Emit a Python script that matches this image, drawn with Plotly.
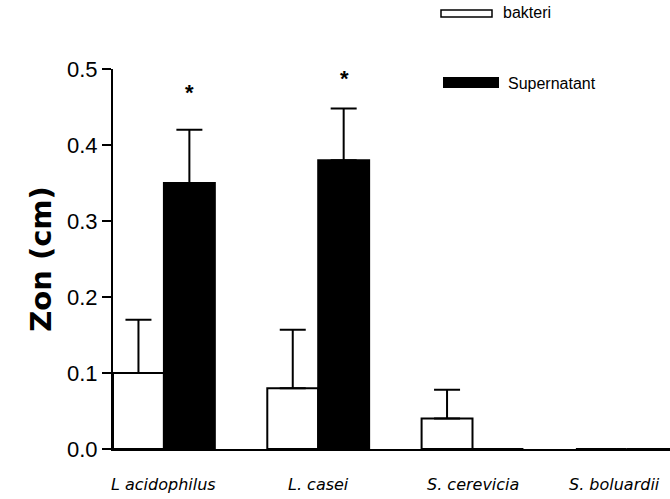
import plotly.graph_objects as go

categories = ["L acidophilus", "L. casei", "S. cerevicia", "S. boluardii"]
bakteri = [0.10, 0.08, 0.04, 0.0]
bakteri_err = [0.07, 0.077, 0.038, 0.0]
supernatant = [0.35, 0.38, 0.0, 0.0]
supernatant_err = [0.07, 0.068, 0.0, 0.0]
stars_y = [0.469, 0.488]
yticks = [0.0, 0.1, 0.2, 0.3, 0.4, 0.5]

W, H = 670, 499
ml, mr, mt, mb = 113, 0, 69, 50
pw, ph = W - ml - mr, H - mt - mb
ARIAL = "Arial, Liberation Sans"
XFONT = dict(size=16, family="DejaVu Sans", color="black", style="italic")

def px(x):
    return (x - ml) / pw

def py(y):
    return (H - mb - y) / ph

fig = go.Figure()
fig.add_trace(go.Bar(
    x=categories, y=bakteri, name="bakteri",
    marker=dict(color="white", line=dict(color="black", width=2)),
    error_y=dict(type="data", array=bakteri_err, arrayminus=[0]*4, symmetric=False,
                 color="black", thickness=2, width=13),
))
fig.add_trace(go.Bar(
    x=categories, y=supernatant, name="Supernatant",
    marker=dict(color="black", line=dict(color="black", width=2)),
    error_y=dict(type="data", array=supernatant_err, arrayminus=[0]*4, symmetric=False,
                 color="black", thickness=2, width=13),
))

annotations = []
for i, sy in enumerate(stars_y):
    annotations.append(dict(x=categories[i], y=sy, xref="x", yref="y", text="<b>*</b>",
                            showarrow=False, xshift=26,
                            font=dict(size=22, color="black", family=ARIAL), yanchor="middle"))

# category labels (last one kept inside the figure edge)
for i, c in enumerate(categories):
    if i < len(categories) - 1:
        annotations.append(dict(x=c, y=0, xref="x", yref="y", text=c, showarrow=False,
                                xanchor="center", yanchor="middle", yshift=-35, font=XFONT))
    else:
        annotations.append(dict(x=1, y=0, xref="paper", yref="y", text=c, showarrow=False,
                                xanchor="right", yanchor="middle", yshift=-35, xshift=-8,
                                font=XFONT))

# custom legend
shapes = [
    dict(type="rect", xref="paper", yref="paper", x0=px(441), x1=px(492), y0=py(17), y1=py(10),
         fillcolor="white", line=dict(color="black", width=1.5)),
    dict(type="rect", xref="paper", yref="paper", x0=px(443), x1=px(499), y0=py(88), y1=py(77),
         fillcolor="black", line=dict(color="black", width=0)),
]
annotations.append(dict(xref="paper", yref="paper", x=px(501), y=py(13), text="bakteri",
                        showarrow=False, xanchor="left", yanchor="middle",
                        font=dict(size=16, color="black", family=ARIAL)))
annotations.append(dict(xref="paper", yref="paper", x=px(506), y=py(83), text="Supernatant",
                        showarrow=False, xanchor="left", yanchor="middle",
                        font=dict(size=16, color="black", family=ARIAL)))

fig.update_layout(
    width=W, height=H,
    margin=dict(l=ml, r=mr, t=mt, b=mb, pad=0),
    paper_bgcolor="white", plot_bgcolor="white",
    barmode="group", bargap=0.34, bargroupgap=0,
    showlegend=False,
    font=dict(family=ARIAL, color="black"),
    shapes=shapes, annotations=annotations,
    xaxis=dict(
        range=[-0.33, 3.28], showline=True, linecolor="black", linewidth=2,
        ticks="", showgrid=False, zeroline=False, showticklabels=False,
    ),
    yaxis=dict(
        range=[0, 0.5], showline=True, linecolor="black", linewidth=2,
        ticks="outside", ticklen=9, tickwidth=2, tickcolor="black",
        tickvals=yticks, ticktext=[f"{v:.1f}" for v in yticks],
        showgrid=False, zeroline=False,
        tickfont=dict(size=22, family=ARIAL, color="black"),
        title=dict(text="<b>Zon (cm)</b>",
                   font=dict(size=29, family="DejaVu Sans", color="black"),
                   standoff=7),
    ),
)

fig.write_html("out.html")
